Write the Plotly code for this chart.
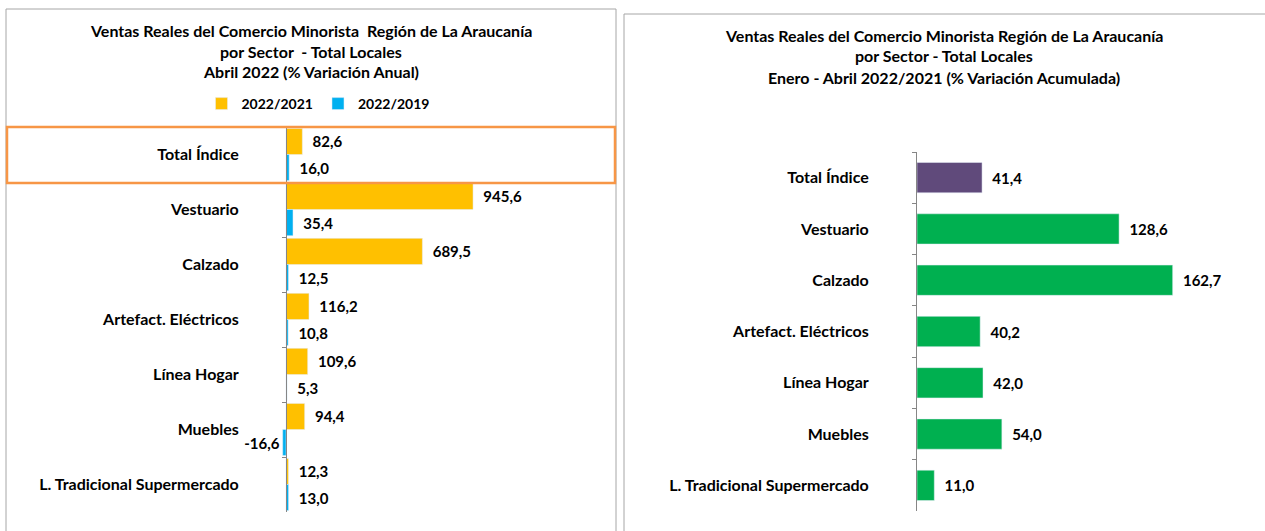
import plotly.graph_objects as go

W, H = 1265, 531

sectores = ["Total Índice", "Vestuario", "Calzado", "Artefact. Eléctricos",
            "Línea Hogar", "Muebles", "L. Tradicional Supermercado"]
var_2022_2021 = [82.6, 945.6, 689.5, 116.2, 109.6, 94.4, 12.3]
var_2022_2019 = [16.0, 35.4, 12.5, 10.8, 5.3, -16.6, 13.0]
var_acumulada = [41.4, 128.6, 162.7, 40.2, 42.0, 54.0, 11.0]

titulo_izq = ["Ventas Reales del Comercio Minorista  Región de La Araucanía",
              "por Sector  - Total Locales",
              "Abril 2022 (% Variación Anual)"]
titulo_der = ["Ventas Reales del Comercio Minorista Región de La Araucanía",
              "por Sector - Total Locales",
              "Enero - Abril 2022/2021 (% Variación Acumulada)"]

FONT = "Lato"

def px_x(v):
    return v / W

def px_y(v):
    return 1 - v / H

fig = go.Figure()

label_font = dict(family=FONT, size=15, color="black", weight="bold")

fig.add_trace(go.Bar(
    y=sectores, x=var_2022_2021, orientation="h", name="2022/2021",
    marker=dict(color="#FFC000"), xaxis="x", yaxis="y",
    texttemplate="\u00a0\u00a0%{x:.1f}", textposition="outside",
    textfont=label_font, cliponaxis=False))
fig.add_trace(go.Bar(
    y=sectores, x=var_2022_2019, orientation="h", name="2022/2019",
    marker=dict(color="#00B0F0"), xaxis="x", yaxis="y",
    texttemplate="\u00a0\u00a0%{x:.1f}", textposition="outside",
    textfont=label_font, cliponaxis=False))

colores_der = ["#604A7B"] + ["#00B050"] * (len(sectores) - 1)
fig.add_trace(go.Bar(
    y=sectores, x=var_acumulada, orientation="h", name="Acumulada",
    marker=dict(color=colores_der), xaxis="x2", yaxis="y2",
    texttemplate="\u00a0\u00a0%{x:.1f}", textposition="outside",
    textfont=label_font, cliponaxis=False, showlegend=False,
    width=0.59))

axis_common = dict(showgrid=False, zeroline=False)
tick_font = dict(family=FONT, size=16, color="black", weight="bold")

fig.update_layout(
    width=W, height=H,
    margin=dict(l=0, r=0, t=0, b=0),
    paper_bgcolor="white", plot_bgcolor="white",
    separators=",.",
    barmode="group", bargap=0.05, bargroupgap=0,
    font=dict(family=FONT, color="black"),
    xaxis=dict(domain=[px_x(276.1), px_x(602.5)], range=[-50, 1600],
               visible=False, anchor="y", **axis_common),
    yaxis=dict(domain=[px_y(512), px_y(127)], autorange="reversed",
               anchor="free", position=px_x(286),
               showline=True, linecolor="#868686", linewidth=1,
               ticks="outside", tickson="boundaries", ticklen=4,
               tickcolor="#868686", ticklabelstandoff=44,
               tickfont=tick_font, **axis_common),
    xaxis2=dict(domain=[px_x(917), px_x(1247)], range=[0, 210],
                visible=False, anchor="y2", **axis_common),
    yaxis2=dict(domain=[px_y(511), px_y(152)], autorange="reversed",
                anchor="x2", showline=True, linecolor="#868686", linewidth=1,
                ticks="outside", tickson="boundaries", ticklen=4,
                tickcolor="#868686", ticklabelstandoff=44,
                tickfont=tick_font, **axis_common),
    legend=dict(orientation="h", x=px_x(318), xanchor="center",
                y=px_y(104), yanchor="middle",
                font=dict(family=FONT, size=14, color="black", weight="bold"),
                itemwidth=30, tracegroupgap=0, bgcolor="rgba(0,0,0,0)"),
    showlegend=True,
)

# titles
for linea, y in zip(titulo_izq, [30, 51, 72]):
    fig.add_annotation(text=linea, x=px_x(311), y=px_y(y), xref="paper", yref="paper",
                       showarrow=False, xanchor="center", yanchor="middle",
                       font=dict(family=FONT, size=16, color="black", weight="bold"))
for linea, y in zip(titulo_der, [35, 56, 78]):
    fig.add_annotation(text=linea, x=px_x(944), y=px_y(y), xref="paper", yref="paper",
                       showarrow=False, xanchor="center", yanchor="middle",
                       font=dict(family=FONT, size=16, color="black", weight="bold"))

# panel borders
fig.add_shape(type="rect", xref="paper", yref="paper",
              x0=px_x(6), x1=px_x(616), y0=px_y(540), y1=px_y(9),
              line=dict(color="#A6A6A6", width=1), layer="below")
fig.add_shape(type="rect", xref="paper", yref="paper",
              x0=px_x(624), x1=px_x(1275), y0=px_y(540), y1=px_y(14),
              line=dict(color="#A6A6A6", width=1), layer="below")
# highlight box on Total Índice
fig.add_shape(type="rect", xref="paper", yref="paper",
              x0=px_x(7), x1=px_x(615), y0=px_y(183), y1=px_y(127),
              line=dict(color="#F79646", width=2.5))

fig.write_html("out.html", config={"displayModeBar": False},
               post_script="document.body.style.margin='0';")
